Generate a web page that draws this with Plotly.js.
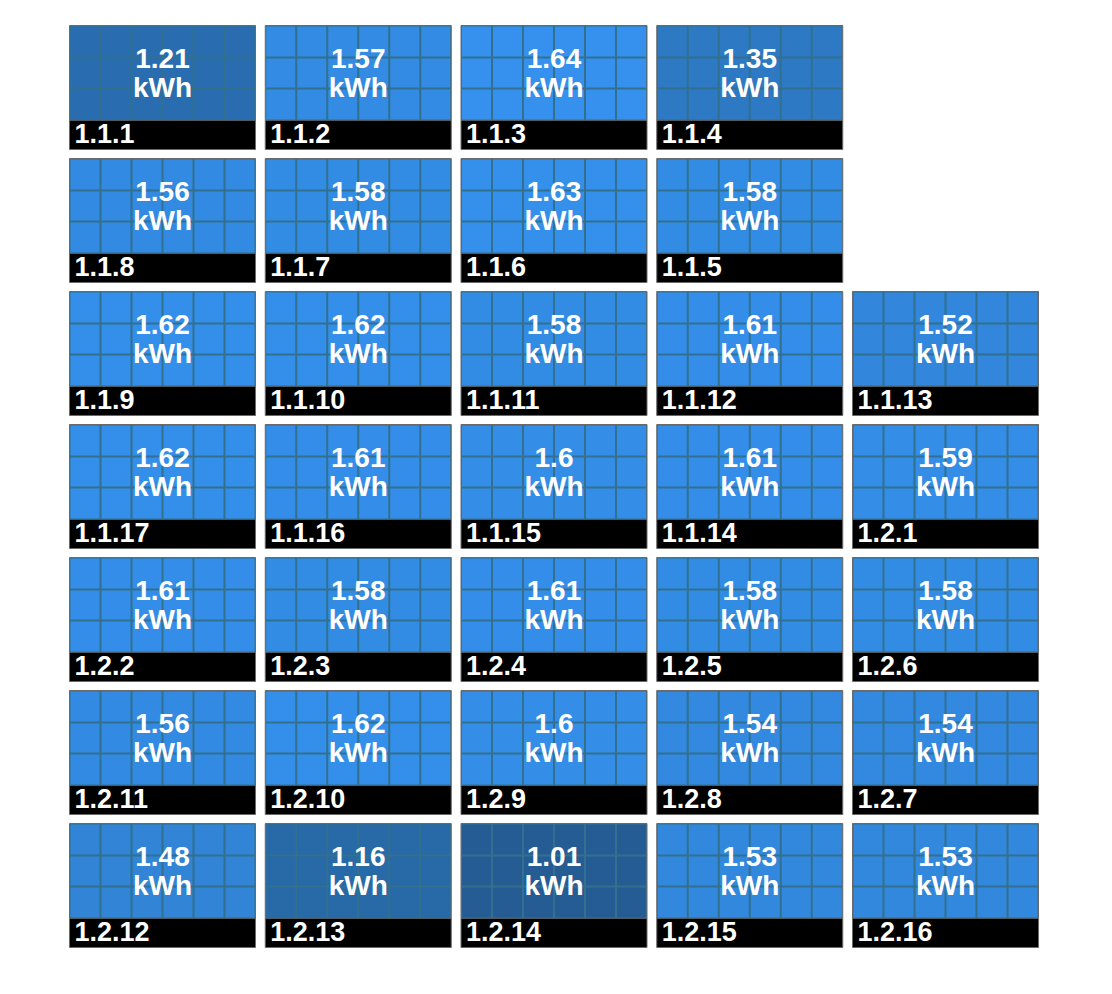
<!DOCTYPE html>
<html><head><meta charset="utf-8">
<script src="https://cdn.plot.ly/plotly-3.0.1.min.js"></script>
<style>html,body{margin:0;padding:0;background:#fff}#chart{width:1112px;height:994px}</style>
</head><body><div id="chart"></div>
<script>
// ---- data (row by row, left to right) ----
const row1Labels = ['1.1.1','1.1.2','1.1.3','1.1.4'];
const row2Labels = ['1.1.8','1.1.7','1.1.6','1.1.5'];
const row3Labels = ['1.1.9','1.1.10','1.1.11','1.1.12','1.1.13'];
const row4Labels = ['1.1.17','1.1.16','1.1.15','1.1.14','1.2.1'];
const row5Labels = ['1.2.2','1.2.3','1.2.4','1.2.5','1.2.6'];
const row6Labels = ['1.2.11','1.2.10','1.2.9','1.2.8','1.2.7'];
const row7Labels = ['1.2.12','1.2.13','1.2.14','1.2.15','1.2.16'];

const row1Values = [1.21, 1.57, 1.64, 1.35];
const row2Values = [1.56, 1.58, 1.63, 1.58];
const row3Values = [1.62, 1.62, 1.58, 1.61, 1.52];
const row4Values = [1.62, 1.61, 1.6, 1.61, 1.59];
const row5Values = [1.61, 1.58, 1.61, 1.58, 1.58];
const row6Values = [1.56, 1.62, 1.6, 1.54, 1.54];
const row7Values = [1.48, 1.16, 1.01, 1.53, 1.53];

const unitLabel = 'kWh';

const allLabels = [row1Labels,row2Labels,row3Labels,row4Labels,row5Labels,row6Labels,row7Labels];
const allValues = [row1Values,row2Values,row3Values,row4Values,row5Values,row6Values,row7Values];

// ---- layout constants ----
const G = {x0:69.5, y0:25.5, pitchX:195.75, pitchY:133, w:186, blueH:95, bandH:29, cellCols:6, cellRows:3};
const gridColor = '#31708e';
const borderColor = '#6a6a6a';
const colorscale = [[0,'#245c93'],[1,'#3591ed']];
const flat = allValues.flat();
const zmin = Math.min(...flat), zmax = Math.max(...flat);
const FONT = 'Liberation Sans, Arial, sans-serif';

const traces = [];
const shapes = [];
const valX = [], valY = [], valT = [], kX = [], kY = [], kT = [], labX = [], labY = [], labT = [];

allValues.forEach((rowVals, r) => {
  rowVals.forEach((v, c) => {
    const left = G.x0 + c * G.pitchX;
    const top = G.y0 + r * G.pitchY;
    const cw = G.w / G.cellCols, ch = G.blueH / G.cellRows;
    shapes.push({type:'rect', xref:'x', yref:'y', x0:left, x1:left+G.w, y0:top, y1:top+G.blueH,
      fillcolor:gridColor, line:{width:0}, layer:'below'});
    shapes.push({type:'rect', xref:'x', yref:'y', x0:left, x1:left+G.w, y0:top+G.blueH, y1:top+G.blueH+G.bandH,
      fillcolor:'#000', line:{width:0}, layer:'below'});
    shapes.push({type:'rect', xref:'x', yref:'y', x0:left, x1:left+G.w, y0:top, y1:top+G.blueH+G.bandH,
      fillcolor:'rgba(0,0,0,0)', line:{width:1, color:borderColor}, layer:'above'});
    const z = [];
    for (let i = 0; i < G.cellRows; i++) { z.push(new Array(G.cellCols).fill(v)); }
    traces.push({type:'heatmap', z:z, x0:left + cw/2, dx:cw, y0:top + ch/2, dy:ch,
      xgap:2, ygap:2, zmin:zmin, zmax:zmax, colorscale:colorscale, showscale:false, hoverinfo:'skip'});
    valX.push(left + G.w/2); valY.push(top + G.blueH/2 - 12.5); valT.push(String(v));
    kX.push(left + G.w/2); kY.push(top + G.blueH/2 + 17); kT.push(unitLabel);
    labX.push(left + 5); labY.push(top + G.blueH + G.bandH/2 + 1); labT.push(allLabels[r][c]);
  });
});

const tf = {family:FONT, size:28, color:'#ffffff', weight:'bold'};
const tfl = {family:FONT, size:27, color:'#ffffff', weight:'bold'};
traces.push({type:'scatter', mode:'text', x:valX, y:valY, text:valT, textposition:'middle center', textfont:tf, hoverinfo:'skip'});
traces.push({type:'scatter', mode:'text', x:kX, y:kY, text:kT, textposition:'middle center', textfont:tf, hoverinfo:'skip'});
traces.push({type:'scatter', mode:'text', x:labX, y:labY, text:labT, textposition:'middle right', textfont:tfl, hoverinfo:'skip'});

const layout = {
  width:1112, height:994, margin:{l:0,r:0,t:0,b:0},
  paper_bgcolor:'#ffffff', plot_bgcolor:'#ffffff', showlegend:false,
  xaxis:{range:[0,1112], visible:false, fixedrange:true},
  yaxis:{range:[994,0], visible:false, fixedrange:true},
  shapes:shapes
};
Plotly.newPlot('chart', traces, layout, {staticPlot:true, displayModeBar:false});
</script>
</body></html>
